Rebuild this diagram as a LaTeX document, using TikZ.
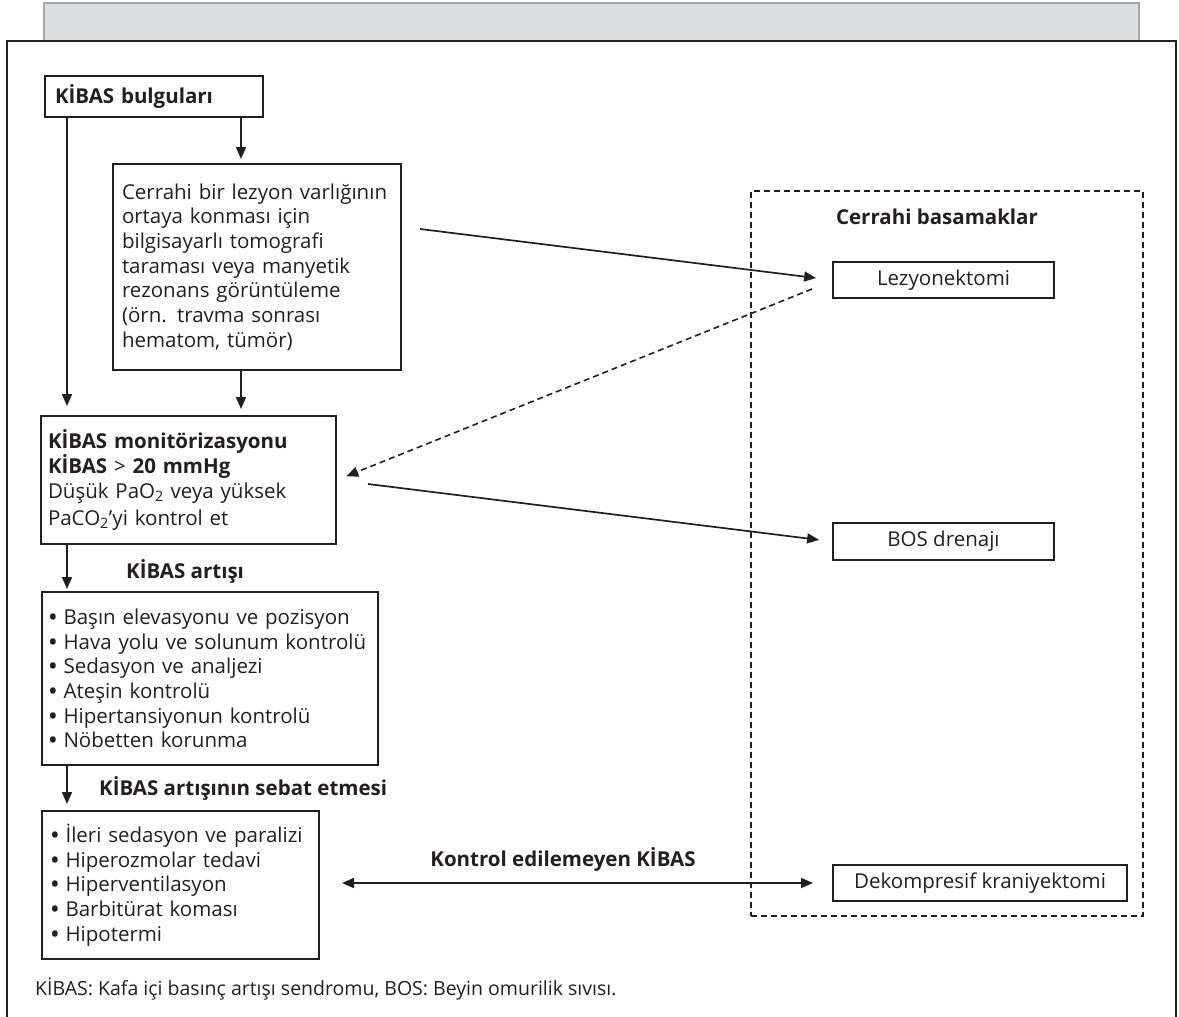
\documentclass[tikz,border=0pt]{standalone}
\usepackage{fontspec}
\setmainfont{Open Sans}
\usetikzlibrary{arrows.meta, positioning, calc}
\definecolor{bandgray}{RGB}{220,221,223}
\definecolor{inkgray}{RGB}{35,31,32}
\newcommand{\madde}{\textbf{•}\ }

\begin{document}
\begin{tikzpicture}[
    x=1pt, y=-1pt,
    font=\fontsize{20.5}{24.7}\selectfont,
    color=inkgray,
    box/.style={draw=inkgray, line width=2pt, anchor=north west, align=left, inner ysep=0pt},
    stepbox/.style={draw=inkgray, line width=2pt, anchor=north west, align=center, inner sep=0pt},
    arrow/.style={-{Triangle[length=12pt, width=10pt]}, line width=1.7pt},
    dblarrow/.style={{Triangle[length=12pt, width=10pt]}-{Triangle[length=12pt, width=10pt]}, line width=1.7pt},
    dashline/.style={dash pattern=on 6pt off 4pt, line width=1.6pt},
    lbl/.style={font=\fontsize{20.5}{24.7}\bfseries}
]
    \useasboundingbox (0,0) rectangle (1179,1017);

    % page band and frame
    \fill[bandgray] (44,3) rectangle (1139,41);
    \draw[gray!70, line width=1.2pt] (44,41) -- (44,3) -- (1139,3) -- (1139,41);
    \draw[inkgray, line width=2.2pt] (7,1017) -- (7,41) -- (1176,41) -- (1176,1017);

    % left column
    \node[box, minimum width=218, minimum height=41, text width=198, inner xsep=10] (bulgu) at (44,75) {\bfseries KİBAS bulguları};
    \node[box, minimum width=288, minimum height=206, text width=270, inner xsep=9] (cerrahi) at (112,163)
        {Cerrahi bir lezyon varlığının\\ ortaya konması için\\ bilgisayarlı tomografi\\ taraması veya manyetik\\ rezonans görüntüleme\\ (örn. travma sonrası\\ hematom, tümör)};
    \node[box, minimum width=295, minimum height=128, text width=281, inner xsep=7] (monitor) at (40,415)
        {\textbf{KİBAS monitörizasyonu}\\ \textbf{KİBAS} > \textbf{20 mmHg}\\ Düşük PaO\textsubscript{2} veya yüksek\\[2pt] PaCO\textsubscript{2}’yi kontrol et};
    \node[box, minimum width=336, minimum height=173, text width=322, inner xsep=7] (tedbir1) at (41,591)
        {\madde Başın elevasyonu ve pozisyon\\ \madde Hava yolu ve solunum kontrolü\\ \madde Sedasyon ve analjezi\\ \madde Ateşin kontrolü\\ \madde Hipertansiyonun kontrolü\\ \madde Nöbetten korunma};
    \node[box, minimum width=277, minimum height=148, text width=259, inner xsep=9] (tedbir2) at (41,810)
        {\madde İleri sedasyon ve paralizi\\ \madde Hiperozmolar tedavi\\ \madde Hiperventilasyon\\ \madde Barbitürat koması\\ \madde Hipotermi};

    % surgical steps
    \node[draw=inkgray, dashline, anchor=north west, minimum width=392, minimum height=725, inner sep=0pt] (basamak) at (750,190) {};
    \node[lbl] (baslik) at (937,217) {Cerrahi basamaklar};
    \node[stepbox, minimum width=221, minimum height=36] (lezyon) at (832,261) {Lezyonektomi};
    \node[stepbox, minimum width=221, minimum height=37] (bos) at (832,522) {BOS drenajı};
    \node[stepbox, minimum width=294, minimum height=36] (dekomp) at (832,864) {Dekompresif kraniyektomi};

    % footnote
    \node[anchor=base west, font=\fontsize{19.5}{22}\selectfont, inner sep=0pt] (dipnot) at (35,995)
        {KİBAS: Kafa içi basınç artışı sendromu, BOS: Beyin omurilik sıvısı.};

    % vertical connectors
    \coordinate (sol1) at ([xshift=23pt]bulgu.south west);
    \coordinate (sag1) at ([xshift=-23pt]bulgu.south east);
    \coordinate (sag2) at (sag1 |- cerrahi.south);
    \coordinate (sol2) at (sol1 |- monitor.south);
    \coordinate (sol3) at (sol1 |- tedbir1.south);
    \draw[arrow, shorten >=9pt] (sol1) -- (sol1 |- monitor.north);
    \draw[arrow, shorten >=4pt] (sag1) -- (sag1 |- cerrahi.north);
    \draw[arrow, shorten >=6pt] (sag2) -- (sag2 |- monitor.north);
    \draw[arrow, shorten >=2pt] (sol2) -- (sol2 |- tedbir1.north)
        node[midway, anchor=west, xshift=55pt, yshift=-3pt, lbl] {KİBAS artışı};
    \draw[arrow, shorten >=6pt] (sol3) -- (sol3 |- tedbir2.north)
        node[midway, anchor=west, xshift=28pt, lbl] {KİBAS artışının sebat etmesi};

    % slanted connectors
    \draw[arrow, shorten >=16pt] ($(cerrahi.east)+(18,-38)$) -- (lezyon.west);
    \draw[arrow, dashline, shorten >=10pt] ($(lezyon.west)+(-20,9)$) -- (monitor.east);
    \draw[arrow, shorten >=13pt] ($(monitor.east)+(31,4)$) -- (bos.west);
    \draw[dblarrow, shorten <=22pt, shorten >=19pt] (tedbir2.east |- dekomp.west) -- (dekomp.west)
        node[midway, yshift=24pt, xshift=-13pt, lbl] {Kontrol edilemeyen KİBAS};
\end{tikzpicture}
\end{document}
